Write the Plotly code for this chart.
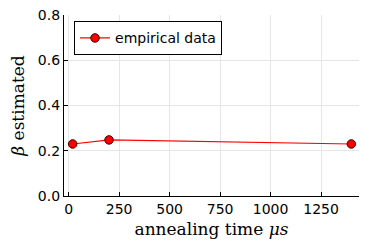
import plotly.graph_objects as go

annealing_time = [20, 200, 1400]
beta_estimated = [0.23, 0.248, 0.23]
x_ticks = [0, 250, 500, 750, 1000, 1250]
y_ticks = [0.0, 0.2, 0.4, 0.6, 0.8]

fig = go.Figure()
fig.add_trace(go.Scatter(
    x=annealing_time, y=beta_estimated, mode="lines+markers",
    name="empirical data",
    line=dict(color="#ff0000", width=1.2),
    marker=dict(color="#ff0000", size=8.5, line=dict(color="#3a0000", width=1)),
))

# page body has an 8px margin, so the figure is sized to the visible area
fig.update_layout(
    width=366, height=241,
    margin=dict(l=56, r=15, t=7, b=53, autoexpand=False),
    paper_bgcolor="white", plot_bgcolor="white",
    font=dict(family="DejaVu Sans", size=14, color="black"),
    showlegend=True,
    legend=dict(x=0.034, y=0.965, xanchor="left", yanchor="top",
                bordercolor="black", borderwidth=1, bgcolor="white",
                font=dict(size=14), itemwidth=30,
                tracegroupgap=0),
    xaxis=dict(range=[-23, 1438], tickvals=x_ticks,
               ticktext=[str(v) for v in x_ticks],
               automargin=False, ticklabeloverflow="allow",
               showgrid=True, gridcolor="#e6e6e6", gridwidth=1,
               zeroline=False, showline=True, linecolor="black", linewidth=1.2,
               ticks="inside", ticklen=4, tickcolor="black",
               title=dict(text="annealing time <i>μs</i>", standoff=7,
                          font=dict(family="DejaVu Serif", size=17))),
    yaxis=dict(range=[0, 0.8003], tickvals=y_ticks,
               ticktext=["%.1f" % v for v in y_ticks],
               automargin=False, ticklabeloverflow="allow",
               showgrid=True, gridcolor="#e6e6e6", gridwidth=1,
               zeroline=False, showline=True, linecolor="black", linewidth=1.2,
               ticks="inside", ticklen=4, tickcolor="black",
               title=dict(text="<i>β</i> estimated",
                          font=dict(family="DejaVu Serif", size=17))),
)

fig.write_html("out.html")
